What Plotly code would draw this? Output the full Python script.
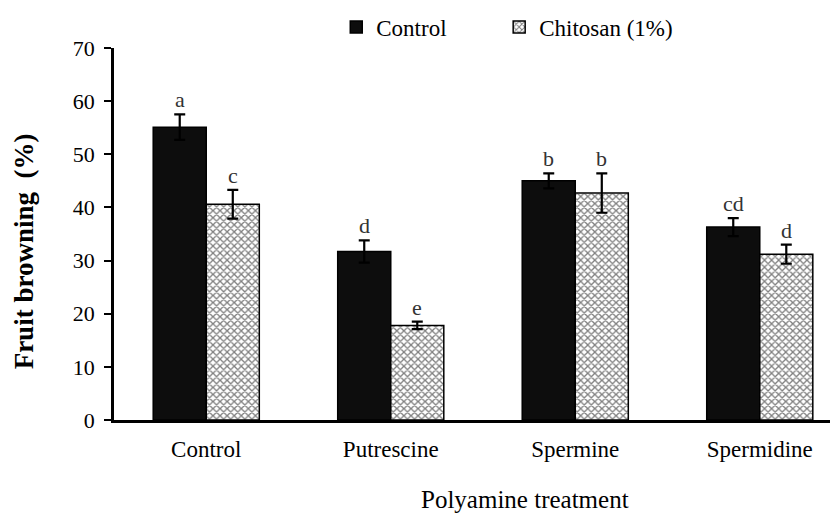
import plotly.graph_objects as go

categories = ["Control", "Putrescine", "Spermine", "Spermidine"]
control_vals = [55.1, 31.7, 45.0, 36.3]
control_err = [2.4, 2.1, 1.4, 1.7]
control_letters = ["a", "d", "b", "cd"]
chitosan_vals = [40.6, 17.8, 42.7, 31.2]
chitosan_err = [2.7, 0.7, 3.7, 1.8]
chitosan_letters = ["c", "e", "b", "d"]

FONT = "Liberation Serif"
xpos = list(range(len(categories)))
bargap = 0.425
half = (1 - bargap) / 4

fig = go.Figure()
fig.add_trace(go.Bar(
    x=xpos, y=control_vals, name="Control", legend="legend",
    marker=dict(color="#0d0d0d", line=dict(color="black", width=1.5)),
    error_y=dict(type="data", array=control_err, color="black", thickness=2.2, width=5.5),
))
fig.add_trace(go.Bar(
    x=xpos, y=chitosan_vals, name="Chitosan (1%)", legend="legend2",
    marker=dict(color="white", line=dict(color="black", width=1.5),
                pattern=dict(shape="x", fgcolor="black", bgcolor="white", size=5, solidity=0.45)),
    error_y=dict(type="data", array=chitosan_err, color="black", thickness=2.2, width=5.5),
))

annotations = []
for i in xpos:
    annotations.append(dict(x=i - half, y=control_vals[i] + control_err[i], text=control_letters[i],
                            showarrow=False, yanchor="bottom", yshift=0,
                            font=dict(family=FONT, size=22, color="#333")))
    annotations.append(dict(x=i + half, y=chitosan_vals[i] + chitosan_err[i], text=chitosan_letters[i],
                            showarrow=False, yanchor="bottom", yshift=0,
                            font=dict(family=FONT, size=22, color="#333")))
annotations.append(dict(x=0.568, y=-0.215, xref="paper", yref="paper", text="Polyamine treatment",
                        showarrow=False, xanchor="center", yanchor="middle",
                        font=dict(family=FONT, size=25, color="black")))
annotations.append(dict(x=-0.125, y=0.452, xref="paper", yref="paper", text="<b>Fruit browning  (%)</b>",
                        showarrow=False, textangle=-90, xanchor="center", yanchor="middle",
                        font=dict(family=FONT, size=27, color="black")))

legend_common = dict(orientation="h", yanchor="middle", xanchor="left", yref="container", y=0.963,
                     font=dict(family=FONT, size=23, color="black"),
                     itemwidth=30, bgcolor="rgba(0,0,0,0)")

fig.update_layout(
    width=838, height=515,
    margin=dict(l=106, r=8, t=40, b=103, autoexpand=False),
    paper_bgcolor="white", plot_bgcolor="white",
    barmode="group", bargap=bargap, bargroupgap=0,
    font=dict(family=FONT, size=21, color="black"),
    showlegend=True,
    legend=dict(x=0.307, **legend_common),
    legend2=dict(x=0.532, **legend_common),
    annotations=annotations,
)
fig.update_xaxes(
    range=[-0.5, 3.424], tickvals=xpos, ticktext=categories,
    showline=True, linecolor="black", linewidth=2.5, ticks="", showgrid=False,
    zeroline=False, ticklabelstandoff=7, tickfont=dict(family=FONT, size=23, color="black"),
    automargin=False,
)
fig.update_yaxes(
    range=[0, 70], dtick=10, showline=True, linecolor="black", linewidth=2.5,
    ticks="outside", ticklen=7, tickwidth=2, tickcolor="black", showgrid=False, zeroline=False,
    ticklabelstandoff=5, tickfont=dict(family=FONT, size=22, color="black"),
    automargin=False,
)

fig.write_html("out.html")
